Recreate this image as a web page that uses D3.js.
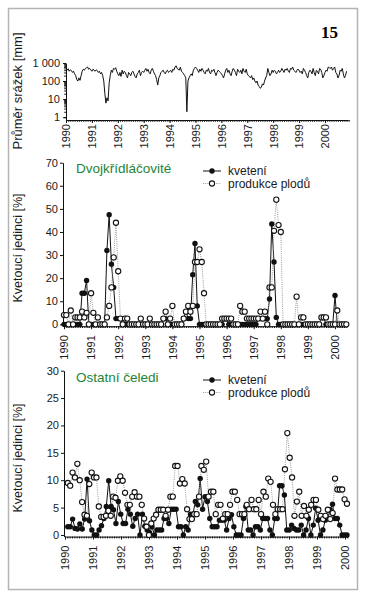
<!DOCTYPE html>
<html lang="cs">
<head>
<meta charset="UTF-8">
<title>Kvetení a produkce plodů</title>
<script src="https://d3js.org/d3.v7.min.js"></script>
<style>
  body { margin: 0; background: #fff; }
  svg { display: block; font-family: "Liberation Sans", Arial, sans-serif; }
  .axis text { font-size: 11px; fill: #1a1a1a; }
  .axis path, .axis line { stroke: #111; stroke-width: 1; }
  .ylab { font-size: 12.5px; fill: #1a1a1a; }
  .legend text { font-size: 12px; fill: #1a1a1a; }
  .title { font-size: 13.5px; fill: #1d8539; }
</style>
</head>
<body>
<svg id="chart" width="365" height="600"></svg>
<script>
// ---- data ----
const years = [1990, 1991, 1992, 1993, 1994, 1995, 1996, 1997, 1998, 1999, 2000];

// mean precipitation [mm], two values per month from Jan 1990
const precip = [
  450, 400, 480, 350, 420, 380, 300, 350, 250, 200, 120, 100, 150, 110, 200, 350, 450, 400, 500, 550, 600, 450, 500, 420,
  350, 450, 400, 350, 420, 380, 300, 350, 250, 300, 200, 100, 20, 6, 12, 8, 80, 200, 400, 300, 500, 450, 550, 350,
  250, 200, 300, 180, 400, 250, 350, 300, 200, 150, 300, 250, 200, 300, 350, 250, 180, 150, 250, 300, 400, 200, 300, 350,
  300, 400, 500, 350, 450, 300, 250, 400, 500, 350, 250, 200, 120, 60, 150, 200, 300, 350, 400, 300, 250, 350, 400, 300,
  350, 400, 300, 450, 400, 600, 700, 500, 450, 400, 600, 350, 300, 250, 200, 150, 2, 100, 150, 200, 250, 200, 400, 500,
  600, 500, 400, 300, 450, 350, 500, 400, 300, 250, 400, 350, 500, 300, 250, 400, 350, 450, 300, 200, 300, 400, 350, 300,
  250, 200, 150, 250, 400, 500, 300, 400, 250, 200, 350, 500, 400, 300, 200, 450, 350, 300, 400, 250, 500, 350, 300, 450,
  250, 200, 180, 150, 200, 120, 150, 100, 80, 100, 60, 50, 40, 45, 70, 60, 100, 150, 200, 500, 300, 200, 250, 400,
  300, 400, 350, 250, 300, 400, 300, 350, 500, 400, 300, 450, 400, 500, 350, 300, 500, 450, 600, 400, 350, 300, 400, 450,
  400, 300, 350, 250, 500, 400, 300, 200, 150, 300, 400, 350, 250, 500, 300, 200, 400, 350, 250, 500, 450, 300, 150, 200,
  300, 400, 350, 600, 550, 500, 600, 400, 500, 600, 300, 250, 150, 200, 400, 350, 500, 250, 150, 200, 350
];
const precipTicks = [1, 10, 100, 1000];
const precipTickLabels = ['1', '10', '100', '1 000'];

// Dvojkřídláčovité, monthly from Jan 1990 [%]
const dipFlower = [
  0, 0, 0, 0, 0, 0, 0, 0, 13.5, 13.5, 19, 0,
  0, 0, 0, 0, 0, 0, 0, 32, 47.5, 26, 16, 2.5,
  2.5, 2.5, 0, 0, 0, 0, 0, 0, 0, 0, 0, 0,
  0, 0, 0, 0, 0, 0, 0, 0, 2.5, 2.5, 0, 0,
  0, 0, 0, 0, 0, 2.5, 5.5, 2.5, 2.5, 21.5, 35, 8,
  0, 0, 0, 0, 0, 0, 0, 0, 0, 0, 0, 2.5,
  2.5, 0, 0, 0, 0, 0, 0, 0, 0, 0, 0, 0,
  0, 0, 2.5, 2.5, 2.5, 2.5, 2.5, 11, 43.5, 27, 3, 0,
  0, 0, 0, 0, 0, 0, 0, 0, 0, 0, 0, 0,
  0, 0, 0, 0, 0, 0, 3, 3, 0, 0, 0, 0,
  12.5, 0, 0, 0, 0, 0
];
const dipFruit = [
  4, 4, 0, 6, 0, 3, 3, 3, 5.5, 3, 5, 0,
  13.5, 5, 0, 3, 0, 0, 0, 3, 8, 16, 29, 44,
  23, 2.5, 0, 2.5, 2.5, 0, 0, 0, 0, 0, 2.5, 0,
  0, 0, 2.5, 0, 0, 0, 0, 0, 2.5, 5.5, 0, 2.5,
  8, 0, 0, 0, 0, 2.5, 5.5, 8, 5.5, 8, 27, 27,
  32.5, 27, 13.5, 0, 0, 0, 0, 0, 0, 0, 2.5, 2.5,
  2.5, 2.5, 2.5, 0, 0, 0, 8, 5.5, 5.5, 2.5, 2.5, 2.5,
  2.5, 2.5, 2.5, 5.5, 2.5, 5.5, 0, 16, 16, 40.5, 54, 43,
  40, 0, 0, 0, 0, 0, 0, 12, 0, 3, 3, 0,
  0, 0, 0, 0, 0, 0, 3, 3, 3, 0, 0, 0,
  0, 6, 0, 0, 0, 0
];

// Ostatní čeledi, roughly monthly samples, Feb 1990 – Jan 2000 [%]
const othFlower = [
  1.5, 1.5, 2.9, 1.2, 1.1, 2.0, 1.1, 2.9, 10.2, 2.6, 0.9, 0, 0, 0.9, 1.7, 3, 5.2, 9.9,
  5.2, 4.6, 2.1, 6.1, 3.8, 2.1, 2.1, 4.7, 3.8, 1.6, 3, 3.8, 0, 3.8, 1.6, 0.9, 0.4, 1.5,
  0, 0.9, 0.9, 0.9, 3, 3, 2.1, 4.7, 4.7, 4.7, 1.5, 1.5, 0, 1.5, 0.9, 3.8, 3.8, 6.1,
  5.5, 10.3, 4.7, 7, 6.1, 3, 1.5, 1.5, 1.5, 2.7, 2.7, 2.7, 0.9, 3, 3.7, 1.5, 0, 0,
  0, 3, 5.2, 0.9, 0.9, 0, 1.5, 1.5, 0.9, 3, 3, 3, 0.9, 0, 3, 3, 9, 9,
  7.3, 0.9, 0.9, 1.8, 1.2, 0.9, 0.9, 1.8, 0, 0.9, 3, 0, 1.8, 4.9, 2.7, 0, 0.9, 2.7,
  3, 4.6, 5.6, 3, 3, 1.8, 0, 0, 0
];
const othFruit = [
  9.5, 9, 11.4, 10.5, 13, 10, 6, 3.7, 3.5, 9.3, 11.4, 10.5, 10.5, 5.2, 3.3, 3.3, 3.5, 4.4,
  3.5, 7, 6.8, 9.9, 10.7, 9.9, 7.7, 5.5, 5.5, 7, 7.8, 7, 7, 5.5, 3, 1.5, 0, 2.1,
  3, 3.7, 4.6, 4.6, 4.6, 3.5, 4.6, 7, 7, 12.6, 12.6, 9.4, 10.2, 9.4, 4.7, 2.9, 2.9, 3.8,
  3.8, 7, 12.6, 11.9, 13.4, 7, 7.9, 7.9, 3.8, 5.5, 5.5, 3, 3.8, 3.8, 5.5, 7.9, 7.9, 6.4,
  3.8, 3.8, 3.8, 5.5, 4.7, 6.4, 4.7, 4.7, 6.4, 3.8, 7.9, 7, 10.3, 9.7, 5.5, 3.8, 4.7, 4.7,
  4.7, 12, 18.6, 14.1, 10.5, 3.5, 6.1, 7.9, 3.5, 5.3, 3.5, 4.6, 5.5, 6.4, 6.4, 4.6, 3.5, 2.9,
  3.5, 4.6, 2.9, 4, 10.3, 8.3, 8.3, 8.3, 6.5, 5.7
];
const othStart = 1990.1, othEnd = 2000.07;

const legendLabels = ['kvetení', 'produkce plodů'];

// ---- drawing ----
const svg = d3.select('#chart');

svg.append('rect')
  .attr('x', 8.5).attr('y', 8.5)
  .attr('width', 349).attr('height', 581)
  .attr('fill', 'none')
  .attr('stroke', '#b4b4b4')
  .attr('stroke-width', 1.5);

svg.append('text')
  .attr('x', 338).attr('y', 38)
  .attr('text-anchor', 'end')
  .style('font-family', '"Liberation Serif", "DejaVu Serif", serif')
  .style('font-weight', 'bold')
  .style('font-size', '17px')
  .text('15');

function yearAxis(x, yPos, labelOffset, lastYear) {
  const months = d3.range(0, Math.round((lastYear - 1990) * 12) + 1).map(i => 1990 + i / 12);
  svg.append('g')
    .attr('class', 'axis')
    .attr('transform', `translate(0,${yPos})`)
    .call(d3.axisBottom(x).tickValues(months).tickSize(1.8).tickSizeOuter(0).tickFormat(''));
  const ax = svg.append('g')
    .attr('class', 'axis')
    .attr('transform', `translate(0,${yPos})`)
    .call(d3.axisBottom(x).tickValues(years).tickSize(3).tickSizeOuter(0).tickFormat(d3.format('d')));
  ax.select('.domain').remove();
  ax.selectAll('text')
    .attr('transform', 'rotate(-90)')
    .attr('text-anchor', 'end')
    .attr('x', -labelOffset)
    .attr('y', 0)
    .attr('dy', '0.35em');
}

function yLabel(text, cy, size) {
  svg.append('text')
    .attr('class', 'ylab')
    .attr('transform', `translate(22,${cy}) rotate(-90)`)
    .attr('text-anchor', 'middle')
    .style('font-size', size)
    .text(text);
}

// --- top panel: precipitation ---
const xP = d3.scaleLinear().domain([1990, 2000.9]).range([66, 348.3]);
const yP = d3.scaleLog().domain([0.7, 1000]).range([120, 63]);

const minorLog = [];
[1, 10, 100].forEach(b => d3.range(1, 10).forEach(k => minorLog.push(b * k)));
minorLog.push(1000);
svg.append('g')
  .attr('class', 'axis')
  .attr('transform', 'translate(66,0)')
  .call(d3.axisLeft(yP).tickValues(minorLog).tickSize(1.8).tickSizeOuter(0).tickFormat(''));
svg.append('g')
  .attr('class', 'axis')
  .attr('transform', 'translate(66,0)')
  .call(d3.axisLeft(yP).tickValues(precipTicks).tickSize(3).tickPadding(3).tickSizeOuter(0)
    .tickFormat((d, i) => precipTickLabels[i]))
  .select('.domain').remove();

yearAxis(xP, 120, 4, 2000.9);

svg.append('path')
  .datum(precip)
  .attr('fill', 'none')
  .attr('stroke', '#111')
  .attr('stroke-width', 1)
  .attr('stroke-linejoin', 'round')
  .attr('d', d3.line()
    .x((d, i) => xP(1990 + i / 24))
    .y(d => yP(d)));

yLabel('Průměr srážek [mm]', 91, '13px');

// --- series panels ---
function seriesPanel(cfg) {
  const x = d3.scaleLinear().domain([1990, cfg.lastYear]).range(cfg.xRange);
  const y = d3.scaleLinear().domain(cfg.yDomain).range(cfg.yRange);

  svg.append('g')
    .attr('class', 'axis')
    .attr('transform', `translate(${cfg.xRange[0] - 1},0)`)
    .call(d3.axisLeft(y).tickValues(cfg.yTicks).tickSize(3).tickPadding(2).tickSizeOuter(0));

  yearAxis(x, cfg.yRange[0], 9, cfg.lastYear);

  const tFlower = cfg.flowerTime, tFruit = cfg.fruitTime;

  // flowering (black) first, fruit (open) on top
  svg.append('path')
    .datum(cfg.flower)
    .attr('fill', 'none')
    .attr('stroke', '#111')
    .attr('stroke-width', 1)
    .attr('d', d3.line().x((d, i) => x(tFlower(i))).y(d => y(d)));
  svg.append('path')
    .datum(cfg.fruit)
    .attr('fill', 'none')
    .attr('stroke', '#9a9a9a')
    .attr('stroke-width', 1)
    .attr('stroke-dasharray', '1,1.2')
    .attr('d', d3.line().x((d, i) => x(tFruit(i))).y(d => y(d)));

  svg.append('g').selectAll('circle')
    .data(cfg.flower)
    .join('circle')
    .attr('cx', (d, i) => x(tFlower(i)))
    .attr('cy', d => y(d))
    .attr('r', 2.7)
    .attr('fill', '#111');
  svg.append('g').selectAll('circle')
    .data(cfg.fruit)
    .join('circle')
    .attr('cx', (d, i) => x(tFruit(i)))
    .attr('cy', d => y(d))
    .attr('r', 2.6)
    .attr('fill', '#fff')
    .attr('stroke', '#111')
    .attr('stroke-width', 1.1);

  svg.append('text')
    .attr('class', 'title')
    .attr('x', 76).attr('y', cfg.titleY)
    .text(cfg.title);

  // legend
  const lg = svg.append('g').attr('class', 'legend');
  const ly = cfg.legendY, step = 12.5;
  lg.append('line').attr('x1', 203).attr('x2', 221).attr('y1', ly).attr('y2', ly)
    .attr('stroke', '#111').attr('stroke-width', 1);
  lg.append('circle').attr('cx', 212).attr('cy', ly).attr('r', 2.7).attr('fill', '#111');
  lg.append('text').attr('x', 228).attr('y', ly + 4).text(legendLabels[0]);
  lg.append('line').attr('x1', 203).attr('x2', 221).attr('y1', ly + step).attr('y2', ly + step)
    .attr('stroke', '#9a9a9a').attr('stroke-width', 1).attr('stroke-dasharray', '1,1.2');
  lg.append('circle').attr('cx', 212).attr('cy', ly + step).attr('r', 2.6)
    .attr('fill', '#fff').attr('stroke', '#111').attr('stroke-width', 1.1);
  lg.append('text').attr('x', 228).attr('y', ly + step + 4).text(legendLabels[1]);

  yLabel('Kvetoucí jedinci [%]', cfg.labelY, '12.5px');
}

seriesPanel({
  title: 'Dvojkřídláčovité',
  flower: dipFlower,
  fruit: dipFruit,
  flowerTime: i => 1990 + i / 12,
  fruitTime: i => 1990 + i / 12,
  lastYear: 2000.45,
  xRange: [64, 347.2],
  yDomain: [-0.8, 70],
  yRange: [326.2, 162.7],
  yTicks: d3.range(0, 71, 10),
  titleY: 172.5,
  legendY: 171,
  labelY: 248
});

seriesPanel({
  title: 'Ostatní čeledi',
  flower: othFlower,
  fruit: othFruit,
  flowerTime: i => othStart + i * (othEnd - othStart) / (othFlower.length - 1),
  fruitTime: i => othStart + i * (othEnd - othStart) / (othFruit.length - 1),
  lastYear: 2000.1,
  xRange: [65, 347.8],
  yDomain: [-0.3, 30],
  yRange: [536.6, 370.7],
  yTicks: d3.range(0, 31, 5),
  titleY: 382,
  legendY: 380,
  labelY: 458
});
</script>
</body>
</html>
